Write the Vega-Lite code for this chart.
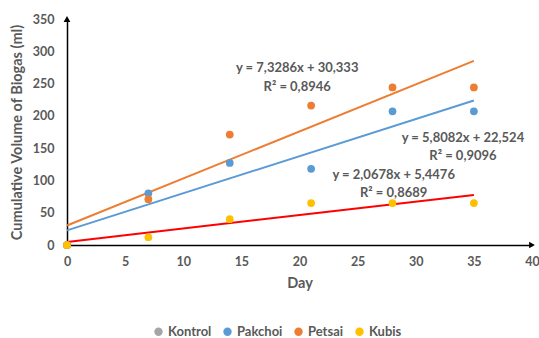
{
  "$schema": "https://vega.github.io/schema/vega-lite/v6.json",
  "width": 465,
  "height": 226,
  "autosize": "none",
  "padding": {"left": 67, "top": 19, "right": 7, "bottom": 93},
  "config": {
    "view": {"stroke": null},
    "font": "Lato",
    "axis": {
      "grid": false,
      "ticks": false,
      "domainColor": "#000000",
      "domainWidth": 1.5,
      "labelColor": "#595959",
      "labelFontSize": 12.5,
      "labelFontWeight": "bold",
      "labelOverlap": false,
      "labelFlush": false,
      "titleColor": "#595959",
      "titleFontSize": 14.5,
      "titleFontWeight": "bold"
    }
  },
  "datasets": {
    "biogas": [
      {"series": "Kontrol", "day": 0, "value": 0},
      {"series": "Pakchoi", "day": 0, "value": 0},
      {"series": "Pakchoi", "day": 7, "value": 80},
      {"series": "Pakchoi", "day": 14, "value": 127},
      {"series": "Pakchoi", "day": 21, "value": 118},
      {"series": "Pakchoi", "day": 28, "value": 207},
      {"series": "Pakchoi", "day": 35, "value": 207},
      {"series": "Petsai", "day": 0, "value": 0},
      {"series": "Petsai", "day": 7, "value": 71},
      {"series": "Petsai", "day": 14, "value": 171},
      {"series": "Petsai", "day": 21, "value": 216},
      {"series": "Petsai", "day": 28, "value": 244},
      {"series": "Petsai", "day": 35, "value": 244},
      {"series": "Kubis", "day": 0, "value": 0},
      {"series": "Kubis", "day": 7, "value": 12},
      {"series": "Kubis", "day": 14, "value": 40},
      {"series": "Kubis", "day": 21, "value": 65},
      {"series": "Kubis", "day": 28, "value": 65},
      {"series": "Kubis", "day": 35, "value": 65}
    ],
    "labels": [
      {"day": 19.8, "value": 274, "text": "y = 7,3286x + 30,333"},
      {"day": 19.8, "value": 245, "text": "R² = 0,8946"},
      {"day": 34.06, "value": 165.7, "text": "y = 5,8082x + 22,524"},
      {"day": 34.06, "value": 137.8, "text": "R² = 0,9096"},
      {"day": 28.1, "value": 108.4, "text": "y = 2,0678x + 5,4476"},
      {"day": 28.1, "value": 80.5, "text": "R² = 0,8689"}
    ],
    "arrows": [
      {"day": 40, "value": 0, "dir": "x"},
      {"day": 0, "value": 350, "dir": "y"}
    ]
  },
  "encoding": {
    "x": {"field": "day", "type": "quantitative", "scale": {"domain": [0, 40]},
      "axis": {"values": [0,5,10,15,20,25,30,35,40], "title": "Day", "labelPadding": 10, "titlePadding": 9}},
    "y": {"field": "value", "type": "quantitative", "scale": {"domain": [0, 350]},
      "axis": {"values": [0,50,100,150,200,250,300,350], "title": "Cumulative Volume of Biogas (ml)", "labelPadding": 13, "titlePadding": 8}}
  },
  "layer": [
    {
      "data": {"name": "biogas"},
      "transform": [
        {"filter": "datum.series === 'Petsai'"},
        {"regression": "value", "on": "day", "extent": [0, 35]}
      ],
      "mark": {"type": "line", "color": "#ED7D31", "strokeWidth": 2}
    },
    {
      "data": {"name": "biogas"},
      "transform": [
        {"filter": "datum.series === 'Pakchoi'"},
        {"regression": "value", "on": "day", "extent": [0, 35]}
      ],
      "mark": {"type": "line", "color": "#5B9BD5", "strokeWidth": 2}
    },
    {
      "data": {"name": "biogas"},
      "transform": [
        {"filter": "datum.series === 'Kubis'"},
        {"regression": "value", "on": "day", "extent": [0, 35]}
      ],
      "mark": {"type": "line", "color": "#FF0000", "strokeWidth": 2}
    },
    {
      "data": {"name": "biogas"},
      "mark": {"type": "point", "filled": true, "opacity": 1, "size": 60},
      "encoding": {
        "color": {
          "field": "series",
          "type": "nominal",
          "scale": {"domain": ["Kontrol", "Pakchoi", "Petsai", "Kubis"], "range": ["#A5A5A5", "#5B9BD5", "#ED7D31", "#FFC000"]},
          "legend": {
            "title": null,
            "orient": "none",
            "direction": "horizontal",
            "legendX": 85,
            "legendY": 306,
            "symbolType": "circle",
            "symbolSize": 70,
            "labelFontSize": 13,
            "labelFontWeight": "bold",
            "labelColor": "#595959",
            "columnPadding": 9,
            "symbolOffset": 0,
            "labelOffset": 3
          }
        }
      }
    },
    {
      "data": {"name": "labels"},
      "mark": {"type": "text", "fontSize": 13, "fontWeight": "bold", "color": "#595959", "align": "center", "baseline": "middle"},
      "encoding": {
        "text": {"field": "text"}
      }
    },
    {
      "data": {"name": "arrows"},
      "mark": {"type": "point", "filled": true, "opacity": 1, "color": "#000000", "size": 45},
      "encoding": {
        "shape": {"field": "dir", "type": "nominal", "scale": {"domain": ["x", "y"], "range": ["triangle-right", "triangle-up"]}, "legend": null}
      }
    }
  ]
}
